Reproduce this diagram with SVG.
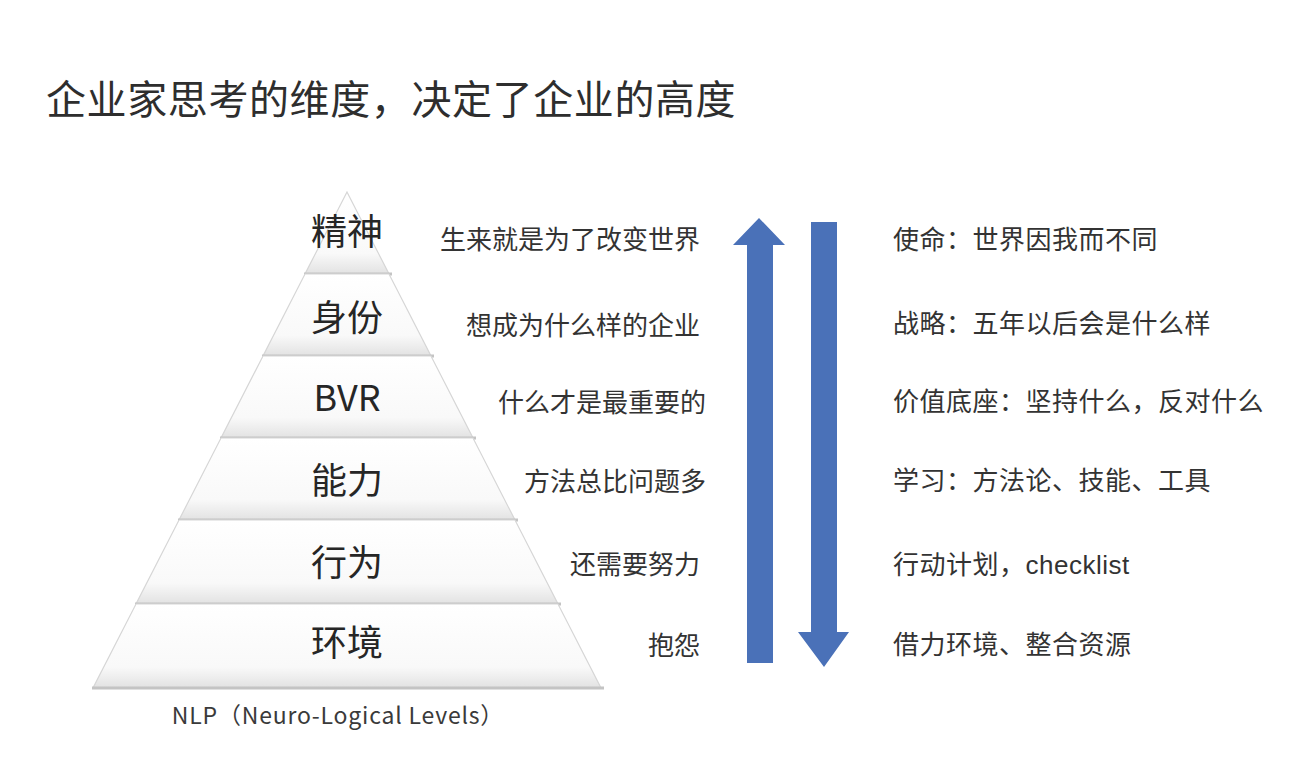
<svg xmlns="http://www.w3.org/2000/svg" width="1290" height="764" viewBox="0 0 1290 764">
<defs>
<linearGradient id="tierGrad" x1="0" y1="0" x2="0" y2="1">
<stop offset="0" stop-color="#ffffff"/>
<stop offset="0.75" stop-color="#f9f9f9"/>
<stop offset="1" stop-color="#e2e2e2"/>
</linearGradient>
<style>
.title{font-family:"Noto Sans CJK SC","Liberation Sans",sans-serif;font-size:40px;letter-spacing:0.6px;fill:#2e2e2e;}
.tier{fill:url(#tierGrad);stroke:#d6d6d6;stroke-width:1.2;}
.base{stroke:#c4c4c4;stroke-width:3;}
.lvl{font-family:"Noto Sans CJK SC","Liberation Sans",sans-serif;font-size:36px;fill:#262626;text-anchor:middle;}
.mid{font-family:"Noto Sans CJK SC","Liberation Sans",sans-serif;font-size:26px;fill:#333333;text-anchor:end;}
.rt{font-family:"Noto Sans CJK SC","Liberation Sans",sans-serif;font-size:26px;letter-spacing:0.5px;fill:#333333;}
.lat{font-family:"Liberation Sans","Noto Sans CJK SC",sans-serif;}
.cap{font-family:"Noto Sans CJK SC","Liberation Sans",sans-serif;font-size:23px;letter-spacing:0.8px;fill:#3a3a3a;text-anchor:middle;}
.arrow{fill:#4a71b8;}
</style>
</defs>
<rect width="1290" height="764" fill="#ffffff"/>
<text class="title" x="46" y="114">企业家思考的维度，决定了企业的高度</text>

<g id="pyramid">
<g id="tier-spirit">
<polygon class="tier" points="347,192 305,274 389,274"/>
<line class="base" x1="304" y1="274" x2="392" y2="274"/>
<text class="lvl" x="347" y="245">精神</text>
</g>
<g id="tier-identity">
<polygon class="tier" points="305,274 389,274 431,356 263,356"/>
<line class="base" x1="262" y1="356" x2="434" y2="356"/>
<text class="lvl" x="347" y="331">身份</text>
</g>
<g id="tier-bvr">
<polygon class="tier" points="263,356 431,356 473,438 221,438"/>
<line class="base" x1="220" y1="438" x2="476" y2="438"/>
<text class="lvl" x="347" y="411">BVR</text>
</g>
<g id="tier-ability">
<polygon class="tier" points="221,438 473,438 515,520 179,520"/>
<line class="base" x1="178" y1="520" x2="518" y2="520"/>
<text class="lvl" x="347" y="494">能力</text>
</g>
<g id="tier-behavior">
<polygon class="tier" points="179,520 515,520 558,604 136,604"/>
<line class="base" x1="135" y1="604" x2="561" y2="604"/>
<text class="lvl" x="347" y="576">行为</text>
</g>
<g id="tier-environment">
<polygon class="tier" points="136,604 558,604 601,688 93,688"/>
<line class="base" x1="92" y1="688" x2="604" y2="688"/>
<text class="lvl" x="347" y="656">环境</text>
</g>
<text id="caption" class="cap" x="338" y="724">NLP（Neuro-Logical Levels）</text>
</g>

<g id="middle-texts">
<text class="mid" x="700" y="249">生来就是为了改变世界</text>
<text class="mid" x="700" y="335">想成为什么样的企业</text>
<text class="mid" x="706" y="412">什么才是最重要的</text>
<text class="mid" x="706" y="491">方法总比问题多</text>
<text class="mid" x="700" y="574">还需要努力</text>
<text class="mid" x="700" y="655">抱怨</text>
</g>

<g id="connectors">
<polygon id="arrow-up" class="arrow" points="759,218 785,245 773,245 773,663 747,663 747,245 733,245"/>
<polygon id="arrow-down" class="arrow" points="811,222 837,222 837,632 849,632 824,667 798,632 811,632"/>
</g>

<g id="right-texts">
<text class="rt" x="893" y="249">使命：世界因我而不同</text>
<text class="rt" x="893" y="333">战略：五年以后会是什么样</text>
<text class="rt" x="893" y="411">价值底座：坚持什么，反对什么</text>
<text class="rt" x="893" y="490">学习：方法论、技能、工具</text>
<text class="rt" x="893" y="574">行动计划，<tspan class="lat">checklist</tspan></text>
<text class="rt" x="893" y="654">借力环境、整合资源</text>
</g>
</svg>
